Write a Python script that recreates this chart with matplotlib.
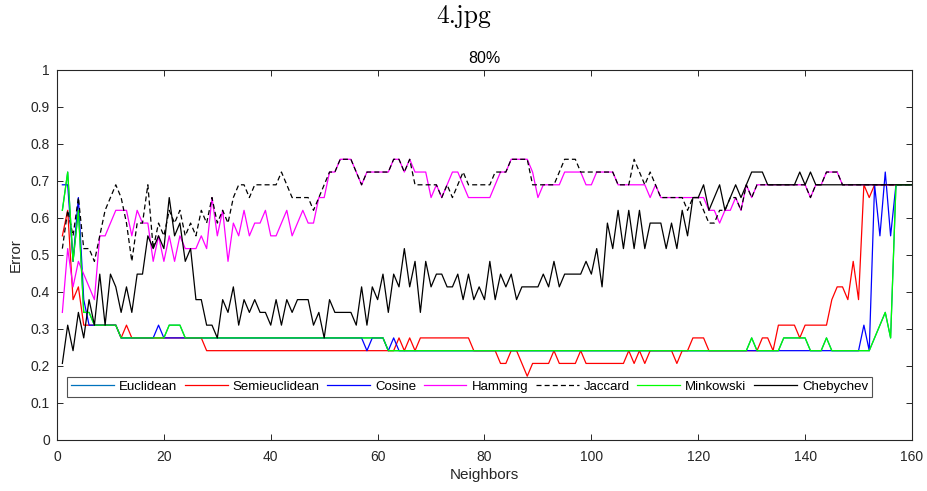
import matplotlib
matplotlib.use("Agg")
import matplotlib.pyplot as plt
import numpy as np

# misclassified images out of the test set, per number of neighbors (1..160)
N_TEST = 29
neighbors = list(range(1, 161))

minkowski = [
    18, 21, 14, 18, 10, 10, 9, 9, 9, 9, 9, 8, 8, 8, 8, 8, 8, 8, 8, 8,
    9, 9, 9, 8, 8, 8, 8, 8, 8, 8, 8, 8, 8, 8, 8, 8, 8, 8, 8, 8,
    8, 8, 8, 8, 8, 8, 8, 8, 8, 8, 8, 8, 8, 8, 8, 8, 8, 8, 8, 8,
    8, 7, 7, 7, 7, 7, 7, 7, 7, 7, 7, 7, 7, 7, 7, 7, 7, 7, 7, 7,
    7, 7, 7, 7, 7, 7, 7, 7, 7, 7, 7, 7, 7, 7, 7, 7, 7, 7, 7, 7,
    7, 7, 7, 7, 7, 7, 7, 7, 7, 7, 7, 7, 7, 7, 7, 7, 7, 7, 7, 7,
    7, 7, 7, 7, 7, 7, 7, 7, 7, 8, 7, 7, 7, 7, 7, 8, 8, 8, 8, 8,
    7, 7, 7, 8, 7, 7, 7, 7, 7, 7, 7, 7, 8, 9, 10, 8, 20, 20, 20, 20,
]
euclidean = list(minkowski)

cosine = [
    20, 20, 14, 19, 11, 9, 9, 9, 9, 9, 9, 8, 8, 8, 8, 8, 8, 8, 9, 8,
    8, 8, 8, 8, 8, 8, 8, 8, 8, 8, 8, 8, 8, 8, 8, 8, 8, 8, 8, 8,
    8, 8, 8, 8, 8, 8, 8, 8, 8, 8, 8, 8, 8, 8, 8, 8, 8, 7, 8, 8,
    8, 7, 8, 7, 7, 7, 7, 7, 7, 7, 7, 7, 7, 7, 7, 7, 7, 7, 7, 7,
    7, 7, 7, 7, 7, 7, 7, 7, 7, 7, 7, 7, 7, 7, 7, 7, 7, 7, 7, 7,
    7, 7, 7, 7, 7, 7, 7, 7, 7, 7, 7, 7, 7, 7, 7, 7, 7, 7, 7, 7,
    7, 7, 7, 7, 7, 7, 7, 7, 7, 7, 7, 7, 7, 7, 7, 7, 7, 7, 7, 7,
    7, 7, 7, 7, 7, 7, 7, 7, 7, 7, 9, 7, 20, 16, 21, 16, 20, 20, 20, 20,
]

semieuclidean = [
    16, 18, 11, 12, 9, 9, 9, 9, 9, 9, 9, 8, 9, 8, 8, 8, 8, 8, 8, 8,
    8, 8, 8, 8, 8, 8, 8, 7, 7, 7, 7, 7, 7, 7, 7, 7, 7, 7, 7, 7,
    7, 7, 7, 7, 7, 7, 7, 7, 7, 7, 7, 7, 7, 7, 7, 7, 7, 7, 7, 7,
    7, 7, 7, 8, 7, 8, 7, 8, 8, 8, 8, 8, 8, 8, 8, 8, 8, 7, 7, 7,
    7, 7, 6, 6, 7, 7, 6, 5, 6, 6, 6, 6, 7, 6, 6, 6, 6, 7, 6, 6,
    6, 6, 6, 6, 6, 6, 7, 6, 7, 6, 7, 7, 7, 7, 7, 6, 7, 7, 8, 8,
    8, 7, 7, 7, 7, 7, 7, 7, 7, 7, 7, 8, 8, 7, 9, 9, 9, 9, 8, 9,
    9, 9, 9, 9, 11, 12, 12, 11, 14, 11, 20, 19, 20, 20, 20, 20, 20, 20, 20, 20,
]

hamming = [
    10, 15, 12, 14, 13, 12, 11, 16, 16, 17, 18, 18, 18, 16, 18, 17, 17, 14, 16, 14,
    16, 14, 16, 15, 15, 15, 16, 15, 19, 16, 18, 14, 17, 16, 18, 16, 17, 17, 18, 16,
    16, 17, 18, 16, 17, 18, 17, 17, 19, 19, 21, 21, 22, 22, 22, 21, 20, 21, 21, 21,
    21, 21, 22, 22, 21, 22, 21, 21, 21, 19, 20, 19, 20, 21, 21, 20, 19, 19, 19, 19,
    19, 20, 21, 21, 22, 22, 22, 22, 21, 19, 20, 20, 20, 20, 21, 21, 21, 21, 20, 20,
    21, 21, 21, 21, 20, 20, 20, 20, 20, 20, 19, 20, 19, 19, 19, 19, 19, 19, 19, 19,
    19, 18, 18, 17, 18, 18, 19, 18, 20, 19, 20, 20, 20, 20, 20, 20, 20, 20, 20, 20,
    19, 20, 20, 21, 21, 21, 20, 20, 20, 20, 20, 20, 20, 20, 20, 20, 20, 20, 20, 20,
]

jaccard = [
    15, 18, 16, 19, 15, 15, 14, 16, 18, 19, 20, 19, 17, 14, 17, 17, 20, 15, 17, 16,
    18, 17, 18, 16, 17, 16, 18, 17, 19, 17, 18, 17, 19, 20, 20, 19, 20, 20, 20, 20,
    20, 21, 20, 19, 19, 19, 19, 18, 19, 20, 21, 21, 22, 22, 22, 21, 20, 21, 21, 21,
    21, 21, 22, 22, 21, 22, 20, 20, 20, 20, 20, 19, 20, 19, 20, 21, 20, 20, 20, 20,
    20, 21, 21, 21, 22, 22, 22, 22, 20, 20, 20, 20, 20, 21, 22, 22, 22, 21, 21, 21,
    21, 21, 21, 21, 20, 20, 20, 22, 21, 20, 21, 20, 19, 19, 19, 19, 19, 18, 19, 19,
    18, 17, 17, 18, 18, 19, 19, 18, 20, 19, 20, 20, 20, 20, 20, 20, 20, 20, 20, 20,
    19, 20, 20, 21, 21, 21, 20, 20, 20, 20, 20, 20, 20, 20, 20, 20, 20, 20, 20, 20,
]

chebychev = [
    6, 9, 7, 10, 8, 11, 9, 13, 9, 13, 12, 10, 12, 10, 13, 13, 16, 15, 16, 15,
    19, 16, 17, 14, 15, 11, 11, 9, 9, 8, 11, 10, 12, 9, 11, 10, 11, 10, 10, 9,
    11, 9, 11, 10, 11, 11, 11, 9, 10, 8, 11, 10, 10, 10, 10, 9, 12, 9, 12, 11,
    13, 10, 13, 12, 15, 12, 14, 10, 14, 12, 13, 13, 12, 12, 13, 11, 13, 11, 12, 11,
    14, 11, 13, 12, 13, 11, 12, 12, 12, 12, 13, 12, 14, 12, 13, 13, 13, 13, 14, 13,
    15, 12, 17, 15, 18, 15, 18, 15, 18, 15, 17, 17, 17, 15, 17, 15, 18, 16, 19, 19,
    20, 18, 19, 20, 18, 19, 20, 19, 20, 21, 21, 21, 20, 20, 20, 20, 20, 20, 21, 20,
    21, 20, 20, 20, 20, 20, 20, 20, 20, 20, 20, 20, 20, 20, 20, 20, 20, 20, 20, 20,
]

labels = ["Euclidean", "Semieuclidean", "Cosine", "Hamming",
          "Jaccard", "Minkowski", "Chebychev"]
series = [euclidean, semieuclidean, cosine, hamming, jaccard, minkowski, chebychev]
colors = ["#0072BD", "#FF0000", "#0000FF", "#FF00FF", "#000000", "#00FF00", "#000000"]
styles = ["-", "-", "-", "-", (0, (4, 2.5)), "-", "-"]

plt.rcParams["font.family"] = ["Liberation Sans", "DejaVu Sans"]
axcol = "#262626"

fig = plt.figure(figsize=(9.27, 4.91), dpi=100)
ax = fig.add_axes([0.0615, 0.1039, 0.9223, 0.7536])

for vals, lab, c, ls in zip(series, labels, colors, styles):
    err = np.array(vals) / N_TEST
    ax.plot(neighbors, err, color=c, linestyle=ls, linewidth=0.9, label=lab)

ax.set_xlim(0, 160)
ax.set_ylim(0, 1)
ax.set_xticks(np.arange(0, 161, 20))
ax.set_yticks(np.arange(0, 1.01, 0.1))
ax.set_yticklabels(["0", "0.1", "0.2", "0.3", "0.4", "0.5", "0.6", "0.7", "0.8", "0.9", "1"])
ax.tick_params(direction="in", top=True, right=True, length=4, width=0.7,
               labelsize=10, colors=axcol)
ax.tick_params(axis="x", pad=7)
ax.tick_params(axis="y", pad=5)
for sp in ax.spines.values():
    sp.set_color(axcol)
    sp.set_linewidth(0.8)

ax.set_xlabel("Neighbors", fontsize=11, color=axcol, labelpad=3)
ax.set_ylabel("Error", fontsize=11, color=axcol, labelpad=6)
ax.set_title("80%", fontsize=11.5, pad=5)
fig.text(0.5, 0.953, "4.jpg", ha="center", va="baseline", fontsize=18.5, family="cmr10")

leg = ax.legend(loc="lower left", bbox_to_anchor=(0.0117, 0.1163), ncol=7,
                fontsize=9.5, handlelength=3.25, handletextpad=0.4,
                columnspacing=0.55, borderpad=0.3, frameon=True, fancybox=False,
                borderaxespad=0)
leg.get_frame().set_edgecolor(axcol)
leg.get_frame().set_linewidth(0.8)

fig.savefig("out.png", dpi=100)
